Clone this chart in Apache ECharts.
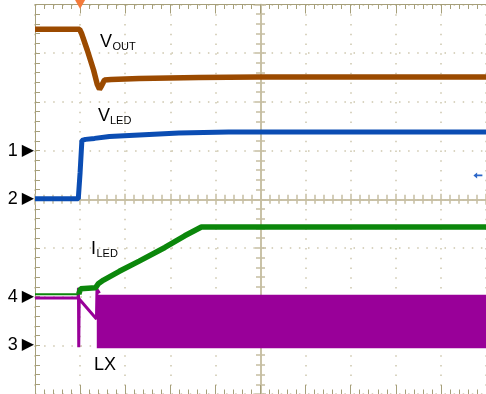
<!DOCTYPE html>
<html>
<head>
<meta charset="utf-8">
<script src="https://cdn.jsdelivr.net/npm/echarts@6/dist/echarts.min.js"></script>
<style>
  html, body { margin: 0; padding: 0; background: #ffffff; }
  #scope { width: 486px; height: 394px; }
</style>
</head>
<body>
<div id="scope"></div>
<script>
// Time in divisions from screen centre, levels in divisions from screen centre.

// V_OUT trace
const voutTime  = [-5, -4.01, -3.97, -3.84, -3.70, -3.62, -3.57, -3.53, -3.46, -3.31, -2.69, -1.37, -0.05, 5];
const voutLevel = [3.49, 3.49, 3.41, 3.06, 2.65, 2.36, 2.26, 2.32, 2.45, 2.46, 2.48, 2.50, 2.51, 2.51];

// V_LED trace
const vledTime  = [-5, -4.04, -4.00, -3.96, -3.88, -3.68, -3.35, -2.69, -1.81, -0.71, 5];
const vledLevel = [0.01, 0.01, 0.55, 1.21, 1.23, 1.25, 1.29, 1.32, 1.36, 1.38, 1.38];

// I_LED trace: idle part, then soft-start ramp
const iledIdleTime  = [-5, -4.03];
const iledIdleLevel = [-1.95, -1.95];
const iledTime  = [-4.03, -3.99, -3.66, -3.59, -3.48, -3.13, -2.69, -2.12, -1.68, -1.31, -0.50, 5];
const iledLevel = [-1.95, -1.84, -1.82, -1.73, -1.66, -1.48, -1.27, -0.99, -0.75, -0.57, -0.57, -0.57];

// LX trace before switching starts
const lxTime  = [-5, -4.045, -4.036, -4.030, -4.020, -3.99, -3.637, -3.626, -3.57];
const lxLevel = [-2.03, -2.03, -1.82, -3.04, -2.05, -2.01, -2.46, -1.85, -1.93];
// LX switching envelope
const lxBandStart = -3.63;
const lxBandEnd = 5;
const lxBandHigh = -1.96;
const lxBandLow = -3.06;

// Channel ground markers
const channelLevels = [1, 0, -2, -3];
const channelNames  = ['1', '2', '4', '3'];

// Trigger position and level
const triggerTime = -4.0;
const triggerLevel = 0.49;
const triggerLevelTime = 4.82;

const C_VOUT = '#9b4a00';
const C_VLED = '#0b4db3';
const C_ILED = '#0b870b';
const C_LX   = '#990099';
const C_GRID = '#a69f7a';
const C_CENTER = '#c6bea2';
const C_DOT = '#cdc6ad';

const pairs = (t, v) => t.map((x, i) => [x, v[i]]);

function hidden() { return { show: false }; }

function tickAxis(base, opts) {
  return Object.assign({
    type: 'value', min: base.min, max: base.max, interval: 1,
    axisLabel: { show: false },
    splitLine: { show: false },
    axisLine: { show: true, onZero: false, lineStyle: { color: C_GRID, width: 1 } },
    axisTick: { show: true, inside: true, length: 9, lineStyle: { color: C_GRID, width: 1 } },
    minorTick: { show: true, splitNumber: 5, length: 4.5, lineStyle: { color: C_GRID, width: 1 } }
  }, opts);
}

function centerAxis(base, position, inside) {
  return {
    type: 'value', min: base.min, max: base.max, interval: 1, position: position,
    axisLabel: { show: false },
    splitLine: { show: false },
    axisLine: { show: true, onZero: true, onZeroAxisIndex: 0, lineStyle: { color: C_CENTER, width: 1.5 } },
    axisTick: { show: true, inside: inside, length: 5.5, lineStyle: { color: C_CENTER, width: 1.5 } },
    minorTick: { show: true, splitNumber: 5, length: 4.5, lineStyle: { color: C_CENTER, width: 1.5 } }
  };
}

const X = { min: -5, max: 5 };
const Y = { min: -4, max: 4 };

const chart = echarts.init(document.getElementById('scope'), null, { renderer: 'canvas' });

const textFont = '"Liberation Sans", Arial, sans-serif';

chart.setOption({
  animation: false,
  backgroundColor: '#ffffff',
  grid: { left: 35, top: 4.5, width: 455, height: 389.5, containLabel: false },
  xAxis: [
    {
      type: 'value', min: X.min, max: X.max, interval: 1, position: 'bottom',
      axisLine: { show: false, onZero: false }, axisTick: hidden(), axisLabel: hidden(),
      splitLine: { show: true, lineStyle: { color: C_DOT, width: 1.5, type: [1.5, 8.24] } }
    },
    tickAxis(X, { position: 'top' }),
    tickAxis(X, { position: 'bottom' }),
    centerAxis(X, 'bottom', true),
    centerAxis(X, 'bottom', false)
  ],
  yAxis: [
    {
      type: 'value', min: Y.min, max: Y.max, interval: 1, position: 'left',
      axisLine: { show: false, onZero: false }, axisTick: hidden(), axisLabel: hidden(),
      splitLine: { show: true, lineStyle: { color: C_DOT, width: 1.5, type: [1.5, 7.6] } }
    },
    tickAxis(Y, {
      position: 'left',
      axisTick: { show: true, inside: true, length: 5, lineStyle: { color: C_GRID, width: 1 } },
      minorTick: { show: true, splitNumber: 5, length: 5, lineStyle: { color: C_GRID, width: 1 } },
      axisLabel: {
        show: true, margin: 1,
        formatter: function (v) {
          const i = channelLevels.indexOf(v);
          return i < 0 ? '' : '{n|' + channelNames[i] + '}{t|▶}';
        },
        rich: {
          n: { fontFamily: textFont, fontSize: 18, color: '#000000' },
          t: { fontFamily: '"DejaVu Sans"', fontSize: 16, color: '#000000', padding: [0, 0, 0, 4] }
        }
      }
    }),
    centerAxis(Y, 'left', true),
    centerAxis(Y, 'left', false)
  ],
  series: [
    {
      name: 'VOUT', type: 'line', xAxisIndex: 0, yAxisIndex: 0,
      data: pairs(voutTime, voutLevel), showSymbol: false,
      lineStyle: { color: C_VOUT, width: 5.5 },
      markPoint: {
        silent: true, label: { show: false },
        data: [
          { coord: [triggerTime, Y.max], symbol: 'triangle', symbolRotate: 180, symbolSize: [10, 9],
            itemStyle: { color: '#f47a3a' } },
          { coord: [triggerLevelTime, triggerLevel],
            symbol: 'path://M0,5 L5,0 L5,3.5 L12,3.5 L12,6.5 L5,6.5 L5,10 Z', symbolSize: [9, 6],
            itemStyle: { color: '#2a66c8' } }
        ]
      }
    },
    {
      name: 'VLED', type: 'line', xAxisIndex: 0, yAxisIndex: 0,
      data: pairs(vledTime, vledLevel), showSymbol: false,
      lineStyle: { color: C_VLED, width: 5 }
    },
    {
      name: 'LX band', type: 'custom', xAxisIndex: 0, yAxisIndex: 0,
      data: [[lxBandStart, lxBandEnd, lxBandLow, lxBandHigh]],
      encode: { x: [0, 1], y: [2, 3] },
      renderItem: function (params, api) {
        const a = api.coord([api.value(0), api.value(3)]);
        const b = api.coord([api.value(1), api.value(2)]);
        const rect = echarts.graphic.clipRectByRect(
          { x: a[0], y: a[1], width: b[0] - a[0], height: b[1] - a[1] },
          { x: params.coordSys.x, y: params.coordSys.y, width: params.coordSys.width, height: params.coordSys.height }
        );
        return rect && { type: 'rect', shape: rect, style: { fill: C_LX } };
      }
    },
    {
      name: 'LX', type: 'line', xAxisIndex: 0, yAxisIndex: 0,
      data: pairs(lxTime, lxLevel), showSymbol: false,
      lineStyle: { color: C_LX, width: 3 }
    },
    {
      name: 'ILED idle', type: 'line', xAxisIndex: 0, yAxisIndex: 0,
      data: pairs(iledIdleTime, iledIdleLevel), showSymbol: false,
      lineStyle: { color: C_ILED, width: 2 }
    },
    {
      name: 'ILED', type: 'line', xAxisIndex: 0, yAxisIndex: 0,
      data: pairs(iledTime, iledLevel), showSymbol: false,
      lineStyle: { color: C_ILED, width: 5.5 }
    }
  ],
  graphic: [
    { type: 'text', left: 100, top: 33, style: { text: 'V', font: '18px ' + textFont, fill: '#000' } },
    { type: 'text', left: 112.5, top: 41, style: { text: 'OUT', font: '11px ' + textFont, fill: '#000' } },
    { type: 'text', left: 98, top: 107, style: { text: 'V', font: '18px ' + textFont, fill: '#000' } },
    { type: 'text', left: 110, top: 115, style: { text: 'LED', font: '11px ' + textFont, fill: '#000' } },
    { type: 'text', left: 91, top: 240, style: { text: 'I', font: '18px ' + textFont, fill: '#000' } },
    { type: 'text', left: 96.5, top: 248, style: { text: 'LED', font: '11px ' + textFont, fill: '#000' } },
    { type: 'text', left: 94, top: 356, style: { text: 'LX', font: '18px ' + textFont, fill: '#000' } }
  ]
});
</script>
</body>
</html>
